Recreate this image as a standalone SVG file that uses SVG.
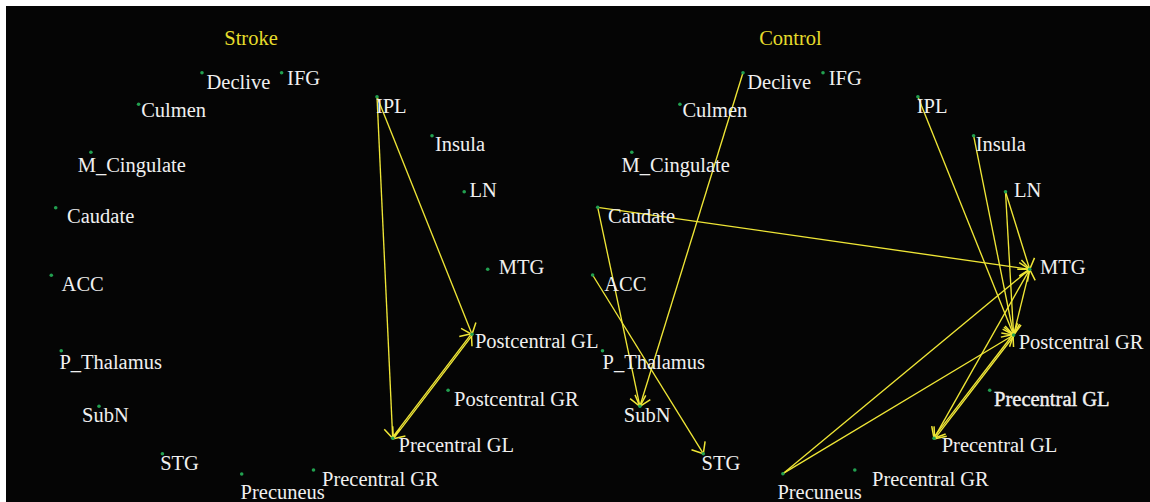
<svg xmlns="http://www.w3.org/2000/svg" width="1150" height="502" viewBox="0 0 1150 502">
<style>
.lbl{font-family:"Liberation Serif","Times New Roman",serif;font-size:20.5px;fill:#f0f0f0}
.ttl{font-family:"Liberation Serif","Times New Roman",serif;font-size:20.5px;fill:#e6dd2c;text-anchor:middle}
.dot{fill:#22a050}
.edge{stroke:#efe636;stroke-width:1.35;fill:none;marker-end:url(#arr)}
</style>
<defs>
<marker id="arr" markerUnits="userSpaceOnUse" viewBox="-12 -12 24 24" markerWidth="24" markerHeight="24" refX="0" refY="0" orient="auto" overflow="visible">
<path d="M-9.5,-8 L0,0 L-9.5,8" fill="none" stroke="#efe636" stroke-width="1.5"/>
</marker>
</defs>
<rect x="0" y="0" width="1150" height="502" fill="#ffffff"/>
<rect x="6" y="6" width="1144" height="496" fill="#050505"/>
<text class="ttl" x="251" y="45">Stroke</text>
<text class="ttl" x="790.5" y="45">Control</text>
<g id="connectors">
<line class="edge" x1="377" y1="96.7" x2="392.7" y2="438.3"/>
<line class="edge" x1="377" y1="96.7" x2="472" y2="334.3"/>
<line class="edge" x1="472.6" y1="334.8" x2="393.3" y2="438.8"/>
<line class="edge" x1="392.1" y1="437.8" x2="471.4" y2="333.8"/>
<line class="edge" x1="743" y1="72.7" x2="639.9" y2="406.3"/>
<line class="edge" x1="597.7" y1="207.3" x2="639.9" y2="406.3"/>
<line class="edge" x1="597.7" y1="207.3" x2="1029.7" y2="269.3"/>
<line class="edge" x1="592.6" y1="275" x2="703.3" y2="453.7"/>
<line class="edge" x1="917.9" y1="96.7" x2="1013.6" y2="335"/>
<line class="edge" x1="973.6" y1="135.7" x2="1013.6" y2="335"/>
<line class="edge" x1="1005.5" y1="191.7" x2="1013.6" y2="335"/>
<line class="edge" x1="1005.5" y1="191.7" x2="1029.7" y2="269.3"/>
<line class="edge" x1="782.9" y1="473.7" x2="1029.7" y2="269.3"/>
<line class="edge" x1="782.9" y1="473.7" x2="1013.6" y2="335"/>
<line class="edge" x1="1013.6" y1="335" x2="1029.7" y2="269.3"/>
<line class="edge" x1="1029.7" y1="269.3" x2="934" y2="438.3"/>
<line class="edge" x1="1014.2" y1="335.5" x2="934.6" y2="438.8"/>
<line class="edge" x1="933.4" y1="437.8" x2="1013" y2="334.5"/>
</g>
<g id="s-declive"><circle class="dot" cx="202" cy="72.7" r="1.8"/><text class="lbl" x="206.5" y="89.3">Declive</text></g>
<g id="s-ifg"><circle class="dot" cx="281.6" cy="72.7" r="1.8"/><text class="lbl" x="287.1" y="85">IFG</text></g>
<g id="s-culmen"><circle class="dot" cx="138.6" cy="104.3" r="1.8"/><text class="lbl" x="141.2" y="116.7">Culmen</text></g>
<g id="s-ipl"><circle class="dot" cx="377" cy="96.7" r="1.8"/><text class="lbl" x="375.9" y="112.7">IPL</text></g>
<g id="s-insula"><circle class="dot" cx="432" cy="135.7" r="1.8"/><text class="lbl" x="434.9" y="151">Insula</text></g>
<g id="s-mcingulate"><circle class="dot" cx="90.9" cy="152.3" r="1.8"/><text class="lbl" x="77.7" y="172.3">M_Cingulate</text></g>
<g id="s-ln"><circle class="dot" cx="464.2" cy="191.7" r="1.8"/><text class="lbl" x="469.4" y="196.7">LN</text></g>
<g id="s-caudate"><circle class="dot" cx="55.7" cy="207.7" r="1.8"/><text class="lbl" x="67.1" y="222.7">Caudate</text></g>
<g id="s-mtg"><circle class="dot" cx="487.7" cy="269.3" r="1.8"/><text class="lbl" x="498.7" y="273.7">MTG</text></g>
<g id="s-acc"><circle class="dot" cx="51.3" cy="275.3" r="1.8"/><text class="lbl" x="61.6" y="291">ACC</text></g>
<g id="s-postcentralgl"><circle class="dot" cx="472" cy="334.3" r="1.8"/><text class="lbl" x="474.9" y="348.3">Postcentral GL</text></g>
<g id="s-pthalamus"><circle class="dot" cx="61.2" cy="350.7" r="1.8"/><text class="lbl" x="59.4" y="369.3">P_Thalamus</text></g>
<g id="s-postcentralgr"><circle class="dot" cx="448.1" cy="390.3" r="1.8"/><text class="lbl" x="454" y="406.3">Postcentral GR</text></g>
<g id="s-subn"><circle class="dot" cx="99" cy="406.3" r="1.8"/><text class="lbl" x="82.1" y="421.7">SubN</text></g>
<g id="s-precentralgl"><circle class="dot" cx="392.7" cy="438.3" r="1.8"/><text class="lbl" x="398.6" y="452">Precentral GL</text></g>
<g id="s-stg"><circle class="dot" cx="162.4" cy="453.7" r="1.8"/><text class="lbl" x="160.2" y="470">STG</text></g>
<g id="s-precentralgr"><circle class="dot" cx="313.5" cy="470" r="1.8"/><text class="lbl" x="322" y="486">Precentral GR</text></g>
<g id="s-precuneus"><circle class="dot" cx="241.7" cy="474" r="1.8"/><text class="lbl" x="240.6" y="499.3">Precuneus</text></g>
<g id="c-declive"><circle class="dot" cx="743" cy="72.7" r="1.8"/><text class="lbl" x="747.3" y="89.3">Declive</text></g>
<g id="c-ifg"><circle class="dot" cx="823" cy="72.7" r="1.8"/><text class="lbl" x="828.8" y="85">IFG</text></g>
<g id="c-culmen"><circle class="dot" cx="679.9" cy="104.3" r="1.8"/><text class="lbl" x="682.4" y="116.7">Culmen</text></g>
<g id="c-ipl"><circle class="dot" cx="917.9" cy="96.7" r="1.8"/><text class="lbl" x="916.8" y="112.7">IPL</text></g>
<g id="c-insula"><circle class="dot" cx="973.6" cy="135.7" r="1.8"/><text class="lbl" x="975.8" y="151">Insula</text></g>
<g id="c-mcingulate"><circle class="dot" cx="631.8" cy="152.3" r="1.8"/><text class="lbl" x="621.6" y="172.3">M_Cingulate</text></g>
<g id="c-ln"><circle class="dot" cx="1005.5" cy="191.7" r="1.8"/><text class="lbl" x="1014" y="196.7">LN</text></g>
<g id="c-caudate"><circle class="dot" cx="597.7" cy="207.3" r="1.8"/><text class="lbl" x="608" y="222.7">Caudate</text></g>
<g id="c-mtg"><circle class="dot" cx="1029.7" cy="269.3" r="1.8"/><text class="lbl" x="1040" y="273.7">MTG</text></g>
<g id="c-acc"><circle class="dot" cx="592.6" cy="275" r="1.8"/><text class="lbl" x="604.3" y="291">ACC</text></g>
<g id="c-postcentralgr"><circle class="dot" cx="1013.6" cy="335" r="1.8"/><text class="lbl" x="1018.7" y="349">Postcentral GR</text></g>
<g id="c-pthalamus"><circle class="dot" cx="602.5" cy="350.7" r="1.8"/><text class="lbl" x="602.5" y="369.3">P_Thalamus</text></g>
<g id="c-precentralgl-b"><circle class="dot" cx="989.7" cy="390.3" r="1.8"/><text class="lbl" x="994.1" y="406.3" stroke="#f4f4f4" stroke-width="0.4">Precentral GL</text></g>
<g id="c-subn"><circle class="dot" cx="639.9" cy="406.3" r="1.8"/><text class="lbl" x="623.8" y="421.7">SubN</text></g>
<g id="c-precentralgl"><circle class="dot" cx="934" cy="438.3" r="1.8"/><text class="lbl" x="941.7" y="452">Precentral GL</text></g>
<g id="c-stg"><circle class="dot" cx="703.3" cy="453.7" r="1.8"/><text class="lbl" x="701.5" y="470">STG</text></g>
<g id="c-precentralgr"><circle class="dot" cx="854.8" cy="470" r="1.8"/><text class="lbl" x="872" y="486">Precentral GR</text></g>
<g id="c-precuneus"><circle class="dot" cx="782.9" cy="473.7" r="1.8"/><text class="lbl" x="777.4" y="499.3">Precuneus</text></g>
</svg>
